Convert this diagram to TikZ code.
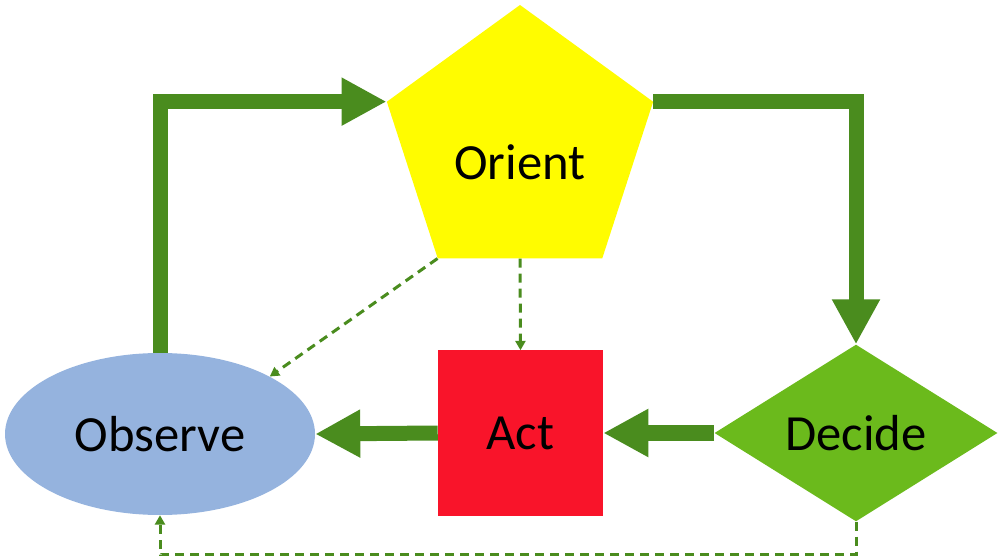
\documentclass[tikz,border=0pt]{standalone}
\usepackage{fontspec}
\setmainfont{Carlito}
\usetikzlibrary{shapes.geometric, arrows.meta}

\definecolor{loopgreen}{RGB}{74,140,30}
\definecolor{oriyellow}{RGB}{255,252,0}
\definecolor{actred}{RGB}{249,20,42}
\definecolor{obsblue}{RGB}{149,179,222}
\definecolor{decgreen}{RGB}{107,186,28}

\begin{document}
\begin{tikzpicture}[x=0.75pt, y=-0.75pt,
    label font/.style={font=\fontsize{38}{40}\selectfont},
    bigarrow/.style={draw=loopgreen, line width=11.25pt, -{Triangle[length=33.75pt, width=33.75pt]}},
    dasharrow/.style={draw=loopgreen, line width=2.25pt, dash pattern=on 6.75pt off 4.5pt, -{Triangle[length=7pt, width=7.5pt]}}]
    \useasboundingbox (0,0) rectangle (1003,559);
    \node [regular polygon, regular polygon sides=5, minimum size=210pt, inner sep=0pt, fill=oriyellow,
        label={[label font, yshift=-12.75pt]center:Orient}] (ori) at (520,145) {};
    \node [ellipse, minimum width=232.5pt, minimum height=121.5pt, inner sep=0pt, fill=obsblue, label font] (obs) at (160,434) {Observe};
    \node [rectangle, minimum size=123.75pt, inner sep=0pt, fill=actred, label font] (act) at (520.5,433) {Act};
    \node [diamond, minimum width=212.25pt, minimum height=128.25pt, inner sep=0pt, fill=decgreen, label font] (dec) at (856,433) {Decide};
    % main loop
    \draw [bigarrow] (obs.north) |- (ori.corner 2);
    \draw [bigarrow] (ori.corner 5) -| (dec.north);
    \draw [bigarrow] (dec.west) -- (act.east);
    \draw [bigarrow] (act.west) -- (obs.east);
    % feedback
    \draw [dasharrow] (ori.corner 3) -- (obs.north east);
    \draw [dasharrow] (ori.south) -- (act.north);
    \draw [dasharrow] (dec.south) -- ++(0,33) -| (obs.south);
\end{tikzpicture}
\end{document}
